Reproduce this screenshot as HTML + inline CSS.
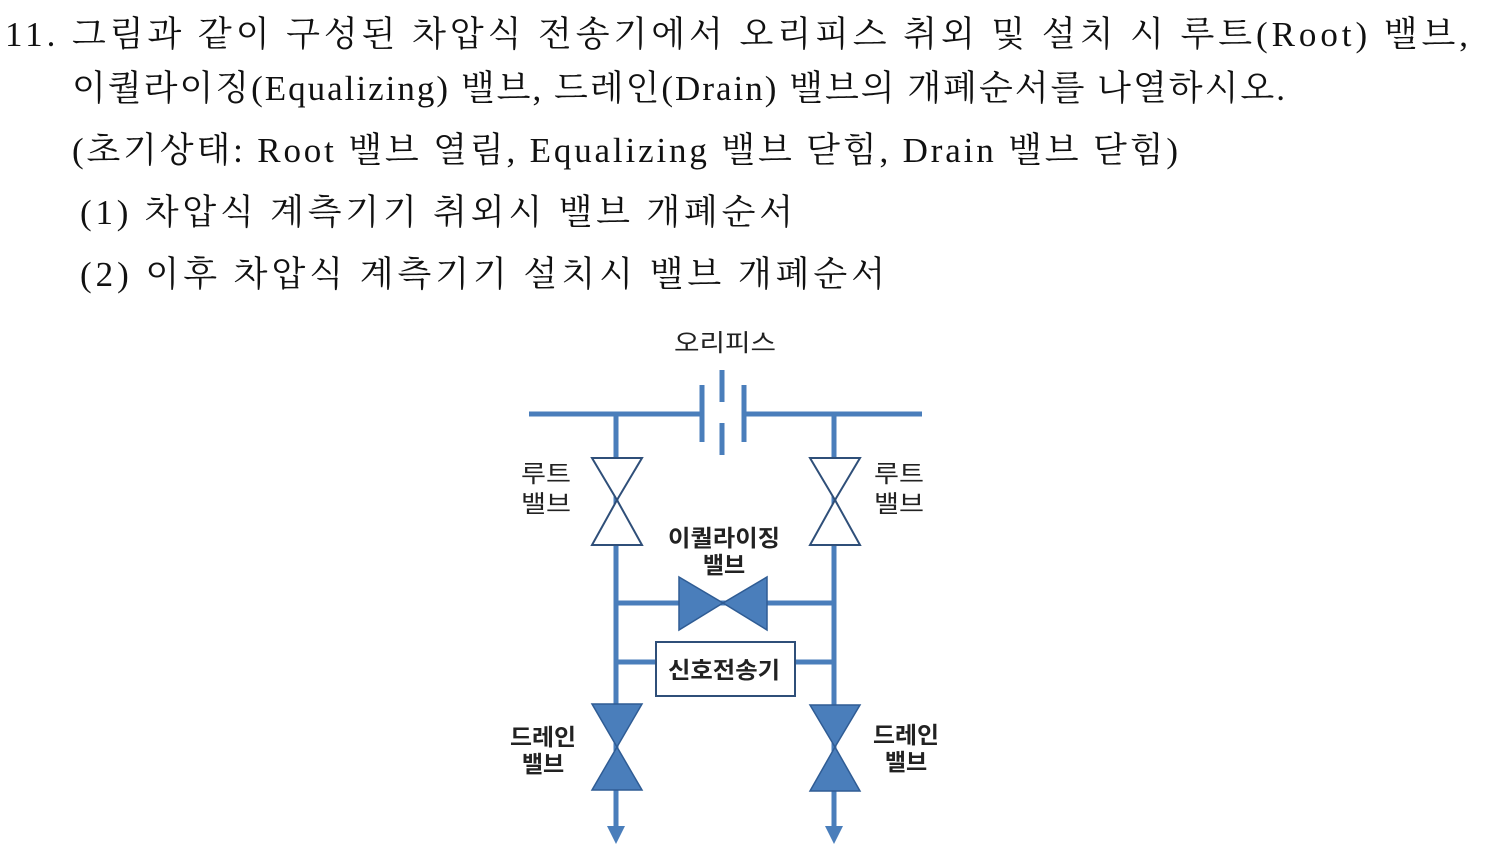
<!DOCTYPE html>
<html><head><meta charset="utf-8"><style>
html,body{margin:0;padding:0;background:#fff;width:1510px;height:861px;overflow:hidden}
svg{display:block}
.q{font-family:"Liberation Serif","Noto Serif CJK SC",serif;font-size:35px;fill:#111}
.l{font-family:"Liberation Sans","Noto Sans CJK KR",sans-serif;font-size:24px;fill:#222}
.b{font-family:"Liberation Sans","Noto Sans CJK KR",sans-serif;font-size:23px;font-weight:bold;fill:#222}
</style></head><body>
<svg width="1510" height="861" viewBox="0 0 1510 861" xmlns="http://www.w3.org/2000/svg">
<text class="q" x="5" y="46" textLength="1463" lengthAdjust="spacing">11. 그림과 같이 구성된 차압식 전송기에서 오리피스 취외 및 설치 시 루트(Root) 밸브,</text>
<text class="q" x="72" y="100" textLength="1213" lengthAdjust="spacing">이퀄라이징(Equalizing) 밸브, 드레인(Drain) 밸브의 개폐순서를 나열하시오.</text>
<text class="q" x="72" y="162" textLength="1106" lengthAdjust="spacing">(초기상태: Root 밸브 열림, Equalizing 밸브 닫힘, Drain 밸브 닫힘)</text>
<text class="q" x="80" y="224" textLength="713" lengthAdjust="spacing">(1) 차압식 계측기기 취외시 밸브 개폐순서</text>
<text class="q" x="80" y="286" textLength="805" lengthAdjust="spacing">(2) 이후 차압식 계측기기 설치시 밸브 개폐순서</text>

<g stroke="#4a7ebb" stroke-width="5" fill="none">
<line x1="529" y1="414" x2="702" y2="414"/>
<line x1="744" y1="414" x2="922" y2="414"/>
<line x1="702" y1="385" x2="702" y2="442"/>
<line x1="744" y1="385" x2="744" y2="442"/>
<line x1="722" y1="370" x2="722" y2="402"/>
<line x1="722" y1="423" x2="722" y2="455"/>
<line x1="616" y1="414" x2="616" y2="828"/>
<line x1="834" y1="414" x2="834" y2="828"/>
<line x1="616" y1="603" x2="834" y2="603"/>
<line x1="616" y1="662" x2="834" y2="662"/>
</g>
<g fill="#fff" stroke="#2f4f79" stroke-width="2">
<polygon points="592,458 642,458 617,500 642,545 592,545 617,500"/>
<polygon points="810,458 860,458 835,500 860,545 810,545 835,500"/>
<rect x="656" y="642" width="139" height="54"/>
</g>
<g fill="#4a7ebb" stroke="#2f5c94" stroke-width="1.5">
<polygon points="679,577 723,603 767,577 767,630 723,603 679,630"/>
<polygon points="592,704 642,704 617,747 642,790 592,790 617,747"/>
<polygon points="810,705 860,705 835,747 860,791 810,791 835,747"/>
<polygon points="607,826 625,826 616,844" stroke="none"/>
<polygon points="825,826 843,826 834,844" stroke="none"/>
</g>
<text class="l" x="725" y="351" text-anchor="middle" textLength="102" lengthAdjust="spacingAndGlyphs">오리피스</text>
<text class="l" x="546" y="482" text-anchor="middle" textLength="50" lengthAdjust="spacingAndGlyphs">루트</text>
<text class="l" x="546" y="512" text-anchor="middle" textLength="50" lengthAdjust="spacingAndGlyphs">밸브</text>
<text class="l" x="899" y="482" text-anchor="middle" textLength="50" lengthAdjust="spacingAndGlyphs">루트</text>
<text class="l" x="899" y="512" text-anchor="middle" textLength="50" lengthAdjust="spacingAndGlyphs">밸브</text>
<text class="b" x="724" y="546" text-anchor="middle" textLength="112" lengthAdjust="spacingAndGlyphs">이퀄라이징</text>
<text class="b" x="724" y="573" text-anchor="middle">밸브</text>
<text class="b" x="724" y="678" text-anchor="middle" textLength="112" lengthAdjust="spacingAndGlyphs">신호전송기</text>
<text class="b" x="543" y="745" text-anchor="middle" textLength="66" lengthAdjust="spacingAndGlyphs">드레인</text>
<text class="b" x="543" y="772" text-anchor="middle">밸브</text>
<text class="b" x="906" y="743" text-anchor="middle" textLength="66" lengthAdjust="spacingAndGlyphs">드레인</text>
<text class="b" x="906" y="770" text-anchor="middle">밸브</text>
</svg>
</body></html>
